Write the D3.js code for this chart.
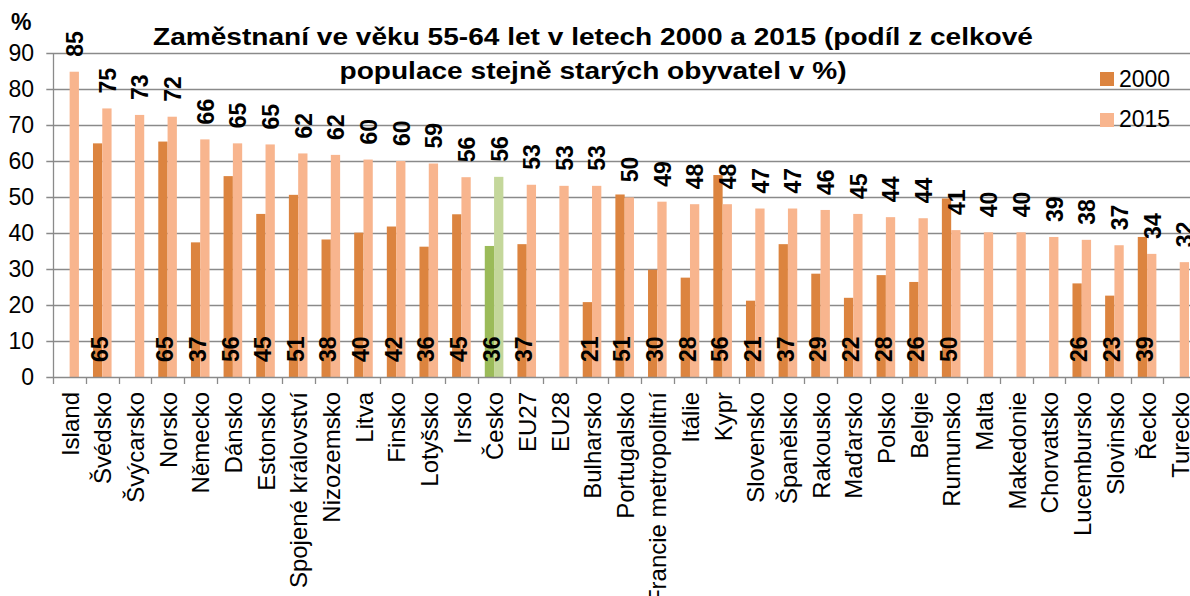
<!DOCTYPE html>
<html>
<head>
<meta charset="utf-8">
<script src="https://cdn.jsdelivr.net/npm/d3@7"></script>
<style>
  html, body { margin: 0; padding: 0; background: #fff; }
  svg { display: block; font-family: "Liberation Sans", Arial, sans-serif; }
</style>
</head>
<body>
<svg id="chart" width="1190" height="596"></svg>
<script>
const categories = ["Island","Švédsko","Švýcarsko","Norsko","Německo","Dánsko","Estonsko","Spojené království","Nizozemsko","Litva","Finsko","Lotyšsko","Irsko","Česko","EU27","EU28","Bulharsko","Portugalsko","Francie metropolitní","Itálie","Kypr","Slovensko","Španělsko","Rakousko","Maďarsko","Polsko","Belgie","Rumunsko","Malta","Makedonie","Chorvatsko","Lucembursko","Slovinsko","Řecko","Turecko"];
const values2000 = [null,64.9,null,65.4,37.4,55.8,45.3,50.6,38.2,40.1,41.8,36.2,45.2,36.4,36.9,null,20.8,50.7,29.8,27.6,56.1,21.2,36.9,28.7,22.0,28.3,26.4,49.6,null,null,null,26.0,22.6,38.9,null];
const values2015 = [84.8,74.6,72.8,72.3,66.0,64.9,64.6,62.1,61.7,60.4,60.0,59.3,55.5,55.6,53.4,53.1,53.1,49.9,48.7,48.0,48.0,46.8,46.8,46.4,45.3,44.4,44.1,40.8,40.2,40.2,38.9,38.1,36.6,34.2,31.9];
const seriesNames = ["2000","2015"];
const yTicks = [0,10,20,30,40,50,60,70,80,90];
const titleLines = ["Zaměstnaní ve věku 55-64 let v letech 2000 a 2015 (podíl z celkové","populace stejně starých obyvatel v %)"];
const highlight = "Česko";

const colors = {"2000": "#DC843F", "2015": "#F8B58E"};
const hlColors = {"2000": "#9BBB59", "2015": "#C4D79B"};

const svg = d3.select("#chart");
const W = 1190, H = 596;
const plotLeft = 53.3, plotTop = 53, plotBottom = 377;
const bandW = 32.65;
const plotRight = plotLeft + bandW * categories.length;

const x = d3.scaleBand().domain(categories).range([plotLeft, plotRight]).paddingInner(0).paddingOuter(0);
const barW = 9.3;
const x1 = d3.scaleBand().domain(seriesNames).range([x.bandwidth()/2 - barW, x.bandwidth()/2 + barW]).padding(0);
const y = d3.scaleLinear().domain([0, 90]).range([plotBottom, plotTop]);

const gridColor = "#8A8A8A";

// gridlines (with left tick stubs)
svg.append("g").selectAll("line").data(yTicks.filter(d => d > 0)).join("line")
  .attr("x1", plotLeft - 7).attr("x2", W)
  .attr("y1", d => Math.round(y(d)) + 0.5).attr("y2", d => Math.round(y(d)) + 0.5)
  .attr("stroke", gridColor).attr("stroke-width", 1.3);

// y axis line
svg.append("line")
  .attr("x1", Math.round(plotLeft)+0.5).attr("x2", Math.round(plotLeft)+0.5)
  .attr("y1", y(90)).attr("y2", plotBottom)
  .attr("stroke", gridColor).attr("stroke-width", 1.3);

// y tick labels
svg.append("g").selectAll("text").data(yTicks).join("text")
  .attr("x", 34).attr("y", d => y(d)).attr("dy", "0.36em")
  .attr("text-anchor", "end").attr("font-size", 23).attr("fill", "#000")
  .text(d => d);

// bars
const data = [];
categories.forEach((c, i) => {
  data.push({cat: c, s: "2000", v: values2000[i]});
  data.push({cat: c, s: "2015", v: values2015[i]});
});
const barData = data.filter(d => d.v !== null);
svg.append("g").selectAll("rect").data(barData).join("rect")
  .attr("x", d => x(d.cat) + x1(d.s))
  .attr("width", x1.bandwidth())
  .attr("y", d => y(d.v))
  .attr("height", d => plotBottom - y(d.v))
  .attr("fill", d => d.cat === highlight ? hlColors[d.s] : colors[d.s]);

// x axis line
svg.append("line")
  .attr("x1", plotLeft - 7).attr("x2", W)
  .attr("y1", Math.round(plotBottom)+0.5).attr("y2", Math.round(plotBottom)+0.5)
  .attr("stroke", gridColor).attr("stroke-width", 1.3);

// x ticks at band boundaries
const boundaries = categories.map(c => x(c)).concat([plotRight]);
svg.append("g").selectAll("line").data(boundaries).join("line")
  .attr("x1", d => Math.round(d)+0.5).attr("x2", d => Math.round(d)+0.5)
  .attr("y1", plotBottom).attr("y2", plotBottom + 7)
  .attr("stroke", gridColor).attr("stroke-width", 1.3);

// x labels
svg.append("g").selectAll("text").data(categories).join("text")
  .attr("transform", d => `translate(${x(d) + x.bandwidth()/2},${392}) rotate(-90)`)
  .attr("dy", "0.38em")
  .attr("text-anchor", "end").attr("font-size", 24).attr("fill", "#000")
  .text(d => d);

const fmt = d3.format(".0f");
// 2015 labels at outside end
svg.append("g").selectAll("text").data(barData.filter(d => d.s === "2015")).join("text")
  .attr("transform", d => `translate(${x(d.cat) + x1(d.s) + x1.bandwidth()/2 + 0.5},${y(d.v) - 15}) rotate(-90)`)
  .attr("dy", "0.36em")
  .attr("text-anchor", "start").attr("font-size", 23).attr("font-weight", "bold").attr("fill", "#000")
  .text(d => fmt(d.v));

// 2000 labels at inside base
svg.append("g").selectAll("text").data(barData.filter(d => d.s === "2000")).join("text")
  .attr("transform", d => `translate(${x(d.cat) + x1(d.s) + x1.bandwidth()/2 + 2},${plotBottom - 15}) rotate(-90)`)
  .attr("dy", "0.36em")
  .attr("text-anchor", "start").attr("font-size", 23).attr("font-weight", "bold").attr("fill", "#000")
  .text(d => fmt(d.v));

// title (horizontally widened like the reference)
svg.append("g").selectAll("text").data(titleLines).join("text")
  .attr("transform", (d, i) => `translate(593,${45 + i * 34}) scale(1.17,1)`)
  .attr("text-anchor", "middle").attr("font-size", 24).attr("font-weight", "bold").attr("fill", "#000")
  .text(d => d);

// % label
svg.append("text").attr("x", 11).attr("y", 30)
  .attr("font-size", 23).attr("font-weight", "bold").attr("fill", "#000").text("%");

// legend
const lg = svg.append("g");
seriesNames.forEach((s, i) => {
  lg.append("rect").attr("x", 1100).attr("y", 72 + i * 41).attr("width", 14).attr("height", 14).attr("fill", colors[s]);
  lg.append("text").attr("x", 1119).attr("y", 87 + i * 40).attr("font-size", 23).attr("fill", "#000").text(s);
});
</script>
</body>
</html>
